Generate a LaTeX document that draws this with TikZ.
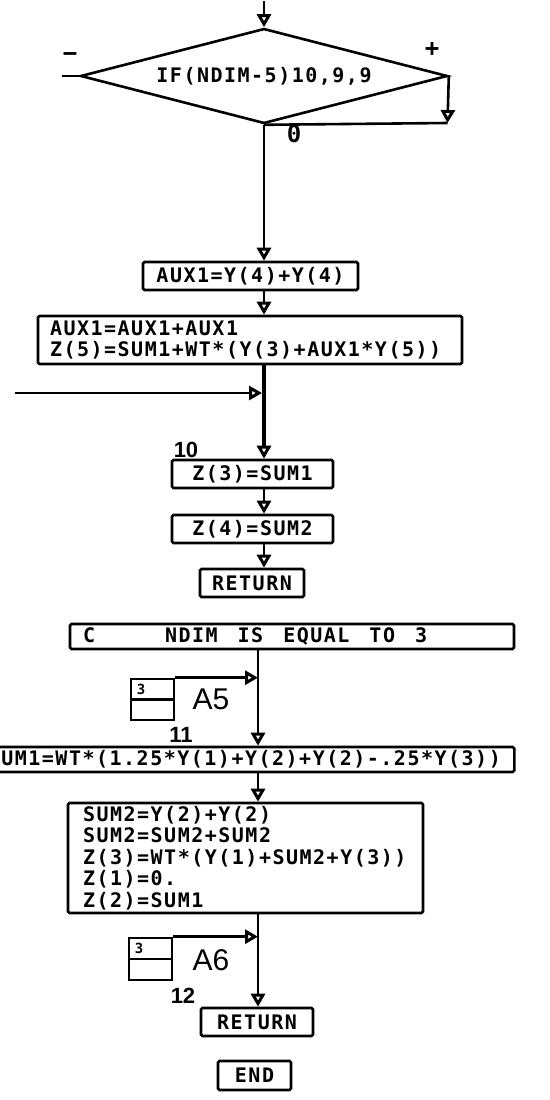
\documentclass[tikz,border=0pt]{standalone}
\usepackage{fontspec}
\setmainfont{Liberation Sans}
\newfontfamily\pf{DejaVu Sans Mono}[LetterSpace=7.5]
\usetikzlibrary{arrows.meta,shapes.geometric}
\newcommand\pfs{\pf\bfseries\fontsize{20}{21.5}\selectfont}
\newcommand\mysp{\hspace*{20pt}}
\begin{document}
\begin{tikzpicture}[x=1pt,y=-1pt,
  ln/.style={line width=2.6pt},
  arr/.style={-{Triangle[open,length=13pt,width=14pt,line width=3pt]}},
  box/.style={draw,line width=2.6pt,rounded corners=1.5pt,inner sep=0pt,font=\pfs},
  lbox/.style={box,align=left},
  dia/.style={draw,diamond,line width=2.6pt,inner sep=0pt,minimum width=367pt,minimum height=95pt,shape aspect=3.86,font=\pfs},
  sym/.style={font=\pf\bfseries\fontsize{24}{24}\selectfont},
  num/.style={font=\bfseries\fontsize{22}{24}\selectfont},
  alab/.style={font=\fontsize{30}{32}\selectfont},
  tiny/.style={font=\pf\bfseries\fontsize{14}{14}\selectfont}]
\useasboundingbox (0,0) rectangle (549,1100);
\clip (0,0) rectangle (549,1100);
\fill[white] (0,0) rectangle (549,1100);

% decision
\node[dia] (d) at (264,76) {IF(NDIM-5)10,9,9};
\coordinate (top) at (264,1);
\coordinate (lstub) at (62,76);
\coordinate (pc) at (447.5,123);
\coordinate (col) at (264,300);
\draw[ln,arr] (top) -- (d.north);
\draw[ln] (d.west) -- (lstub);
\draw[ln,arr] (d.east) -- (pc);
\draw[ln] (pc) -- (d.south);
\node[sym] (minus) at (70,57) {−};
\node[sym] (plus) at (432,50) {+};
\node[sym] (zero) at (294,134) {0};

% upper chain
\node[box,minimum width=215pt,minimum height=28pt] (b1) at (250.5,276) {AUX1=Y(4)+Y(4)};
\draw[ln,arr] (d.south) -- (b1.north -| col);
\node[lbox,text width=400pt,inner xsep=12pt,minimum height=48pt] (b2) at (250,340)
  {AUX1=AUX1+AUX1\\Z(5)=SUM1+WT*(Y(3)+AUX1*Y(5))};
\draw[ln,arr] (b1.south -| col) -- (b2.north -| col);
\node[box,minimum width=161pt,minimum height=28pt] (b3) at (252.5,474) {Z(3)=SUM1};
\draw[line width=4pt,arr] (b2.south -| col) -- (b3.north -| col);
\coordinate (lin) at (15,393);
\draw[ln,arr] (lin) -- ([xshift=-2pt]lin -| col);
\node[num] (n10) at (186,450) {10};
\node[box,minimum width=161pt,minimum height=28pt] (b4) at (252.5,529) {Z(4)=SUM2};
\draw[ln,arr] (b3.south -| col) -- (b4.north -| col);
\node[box,minimum width=104pt,minimum height=28pt] (r1) at (252,583) {RETURN};
\draw[ln,arr] (b4.south -| col) -- (r1.north -| col);

% NDIM = 3 section
\node[lbox,text width=418pt,inner xsep=13pt,minimum height=25pt] (c3) at (292,636.5)
  {C\hspace*{70pt}NDIM\mysp IS\mysp EQUAL\mysp TO\mysp 3};
\coordinate (k) at (258,700);
\node[draw,line width=2.6pt,minimum width=43pt,minimum height=41pt,inner sep=0pt] (a5) at (152.5,699.5) {};
\draw[ln] (a5.west) -- (a5.east);
\node[tiny] (a5n) at (141,689) {3};
\node[alab] (a5l) at (211,699.5) {A5};
\draw[ln,arr] (a5.north east) -- (a5.north east -| k);
\node[num] (n11) at (181,735) {11};
\node[lbox,anchor=west,text width=520pt,inner xsep=6.5pt,minimum height=25pt] (big) at (-20,759.5)
  {SUM1=WT*(1.25*Y(1)+Y(2)+Y(2)-.25*Y(3))};
\draw[ln,arr] (c3.south -| k) -- (big.north -| k);
\node[lbox,text width=325pt,inner xsep=15pt,minimum height=110pt] (b5) at (245.5,858)
  {SUM2=Y(2)+Y(2)\\SUM2=SUM2+SUM2\\Z(3)=WT*(Y(1)+SUM2+Y(3))\\Z(1)=0.\\Z(2)=SUM1};
\draw[ln,arr] (big.south -| k) -- (b5.north -| k);
\node[draw,line width=2.6pt,minimum width=43pt,minimum height=42pt,inner sep=0pt] (a6) at (150.5,959) {};
\draw[ln] (a6.west) -- (a6.east);
\node[tiny] (a6n) at (139,948) {3};
\node[alab] (a6l) at (211,960) {A6};
\draw[ln,arr] (a6.north east) -- (a6.north east -| k);
\node[num] (n12) at (183,996) {12};
\node[box,minimum width=112pt,minimum height=28pt] (r2) at (257,1022) {RETURN};
\draw[ln,arr] (b5.south -| k) -- (r2.north -| k);
\node[box,minimum width=73pt,minimum height=29pt] (end) at (254.5,1075.5) {END};
\end{tikzpicture}
\end{document}
